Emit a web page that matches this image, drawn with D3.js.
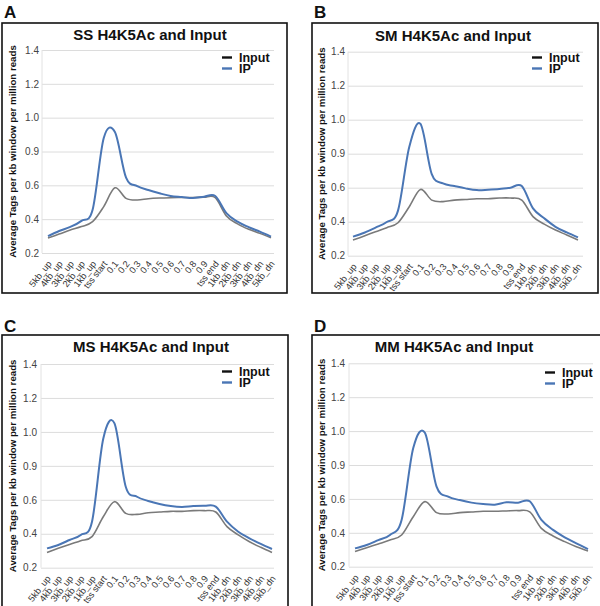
<!DOCTYPE html>
<html><head><meta charset="utf-8">
<script src="https://cdn.jsdelivr.net/npm/d3@7"></script>
<style>body{margin:0;background:#fff}svg{display:block}text{font-family:"Liberation Sans",Arial,Helvetica,sans-serif}</style>
</head><body>
<svg id="chart" width="600" height="606"></svg>
<script>
const categories = ["5kb_up","4kb_up","3kb_up","2kb_up","1kb_up","tss start","0.1","0.2","0.3","0.4","0.5","0.6","0.7","0.8","0.9","tss end","1kb_dn","2kb_dn","3kb_dn","4kb_dn","5kb_dn"];
const yTickValues = [0.2,0.4,0.6,0.8,1.0,1.2,1.4];
const yTickLabels = ["0.2","0.4","0.6","0.9","1.0","1.2","1.4"];
const panelLetters = ["A","B","C","D"];
const panelTitles = ["SS H4K5Ac and Input","SM H4K5Ac and Input","MS H4K5Ac and Input","MM H4K5Ac and Input"];
const seriesNames = ["Input","IP"];
const yAxisTitle = "Average Tags per kb window per million reads";

const ssInput = [0.289,0.312,0.336,0.356,0.385,0.474,0.585,0.523,0.513,0.521,0.525,0.527,0.528,0.528,0.530,0.527,0.419,0.372,0.340,0.316,0.290];
const ssIP    = [0.300,0.330,0.354,0.390,0.455,0.880,0.915,0.645,0.596,0.572,0.553,0.537,0.531,0.525,0.533,0.537,0.436,0.385,0.353,0.326,0.297];
const smInput = [0.292,0.316,0.341,0.365,0.394,0.488,0.590,0.527,0.518,0.527,0.531,0.535,0.535,0.539,0.539,0.527,0.430,0.386,0.351,0.322,0.292];
const smIP    = [0.312,0.335,0.365,0.398,0.465,0.840,0.975,0.680,0.625,0.610,0.596,0.586,0.588,0.592,0.600,0.610,0.478,0.420,0.370,0.337,0.308];
const msInput = [0.290,0.314,0.337,0.359,0.383,0.500,0.589,0.520,0.514,0.524,0.528,0.532,0.532,0.536,0.536,0.528,0.442,0.393,0.353,0.320,0.290];
const msIP    = [0.314,0.334,0.363,0.393,0.471,0.960,1.050,0.677,0.618,0.593,0.575,0.563,0.558,0.563,0.565,0.560,0.471,0.412,0.373,0.340,0.310];
const mmInput = [0.289,0.312,0.334,0.357,0.387,0.495,0.584,0.519,0.511,0.519,0.523,0.527,0.527,0.529,0.531,0.523,0.426,0.381,0.348,0.318,0.293];
const mmIP    = [0.308,0.328,0.357,0.387,0.476,0.900,0.990,0.672,0.613,0.593,0.578,0.570,0.566,0.580,0.578,0.586,0.476,0.417,0.373,0.338,0.304];

const panelSeries = [[ssInput,ssIP],[smInput,smIP],[msInput,msIP],[mmInput,mmIP]];
const seriesColors = ["#7a7a7a","#4a76b5"];
const legendColors = ["#111111","#4a76b5"];

const layouts = [
  {box:[2,23,287,293], letter:[4,18], title:[150,40], xr:[48,271], yr:[253,50], gx:[42,274], tickX:39, ylabX:13, leg:[222,57.5]},
  {box:[312,23,598,293], letter:[314,18], title:[453,41], xr:[353,578], yr:[255.7,51.7], gx:[348,583], tickX:345, ylabX:322, leg:[532,57.5]},
  {box:[2,335,288,614], letter:[4,332], title:[151,352], xr:[47,272], yr:[567.7,364], gx:[41,274], tickX:37, ylabX:13, leg:[222,371.5]},
  {box:[312,335,606,614], letter:[314,332], title:[454,352], xr:[355,588], yr:[566.7,363.3], gx:[349,593], tickX:345, ylabX:322, leg:[545,372.5]}
];

const svg = d3.select("#chart");

layouts.forEach((L, p) => {
  const g = svg.append("g");
  g.append("rect").attr("x",L.box[0]).attr("y",L.box[1])
    .attr("width",L.box[2]-L.box[0]).attr("height",L.box[3]-L.box[1])
    .attr("fill","#fff").attr("stroke","#111").attr("stroke-width",1.6);
  g.append("text").attr("x",L.letter[0]).attr("y",L.letter[1])
    .attr("font-size",17).attr("font-weight","bold").attr("fill","#111").text(panelLetters[p]);
  g.append("text").attr("x",L.title[0]).attr("y",L.title[1]).attr("text-anchor","middle")
    .attr("font-size",15).attr("font-weight","bold").attr("fill","#111").text(panelTitles[p]);

  const x = d3.scalePoint().domain(categories).range(L.xr);
  const y = d3.scaleLinear().domain([0.2,1.4]).range(L.yr);

  const yAxis = d3.axisLeft(y).tickValues(yTickValues)
    .tickFormat((d,i) => yTickLabels[i])
    .tickSize(-(L.gx[1]-L.gx[0])).tickPadding(3);
  const ya = g.append("g").attr("transform",`translate(${L.gx[0]},0)`).call(yAxis);
  ya.select(".domain").remove();
  ya.selectAll(".tick line").attr("stroke","#dcdcdc").attr("stroke-width",1);
  ya.selectAll(".tick text").attr("font-size",10).attr("fill","#444")
    .attr("font-family","Liberation Sans, Arial, sans-serif")
    .attr("x", L.tickX - L.gx[0]);
  g.append("line").attr("x1",L.gx[0]).attr("x2",L.gx[0]).attr("y1",L.yr[1]).attr("y2",L.yr[0])
    .attr("stroke","#e2e2e2").attr("stroke-width",1);

  const xAxis = d3.axisBottom(x).tickSize(0).tickPadding(0);
  const xa = g.append("g").attr("transform",`translate(0,${L.yr[0]})`).call(xAxis);
  xa.select(".domain").remove();
  xa.selectAll(".tick text")
    .attr("font-size",9.2).attr("fill","#333")
    .attr("font-family","Liberation Sans, Arial, sans-serif")
    .attr("text-anchor","end")
    .attr("x",0).attr("y",0).attr("dy","0.35em")
    .attr("transform","translate(1,9) rotate(-52)");

  const ymid = (L.yr[0]+L.yr[1])/2;
  g.append("text").attr("transform",`translate(${L.ylabX},${ymid}) rotate(-90)`)
    .attr("text-anchor","middle").attr("dy","0.35em")
    .attr("font-size",9.7).attr("font-weight","bold").attr("fill","#111").text(yAxisTitle);

  const line = d3.line().x((d,i)=>x(categories[i])).y(d=>y(d)).curve(d3.curveCardinal.tension(0));
  panelSeries[p].forEach((s,k) => {
    g.append("path").datum(s).attr("d",line).attr("fill","none")
      .attr("stroke",seriesColors[k]).attr("stroke-width",k===1?2:1.6)
      .attr("stroke-linejoin","round");
  });

  seriesNames.forEach((nm,k) => {
    const ly = L.leg[1] + k*11;
    g.append("line").attr("x1",L.leg[0]).attr("x2",L.leg[0]+10).attr("y1",ly).attr("y2",ly)
      .attr("stroke",legendColors[k]).attr("stroke-width",2.4);
    g.append("text").attr("x",L.leg[0]+17).attr("y",ly).attr("dy","0.33em")
      .attr("font-size",12.5).attr("font-weight","bold").attr("fill","#111").text(nm);
  });
});
</script>
</body></html>
